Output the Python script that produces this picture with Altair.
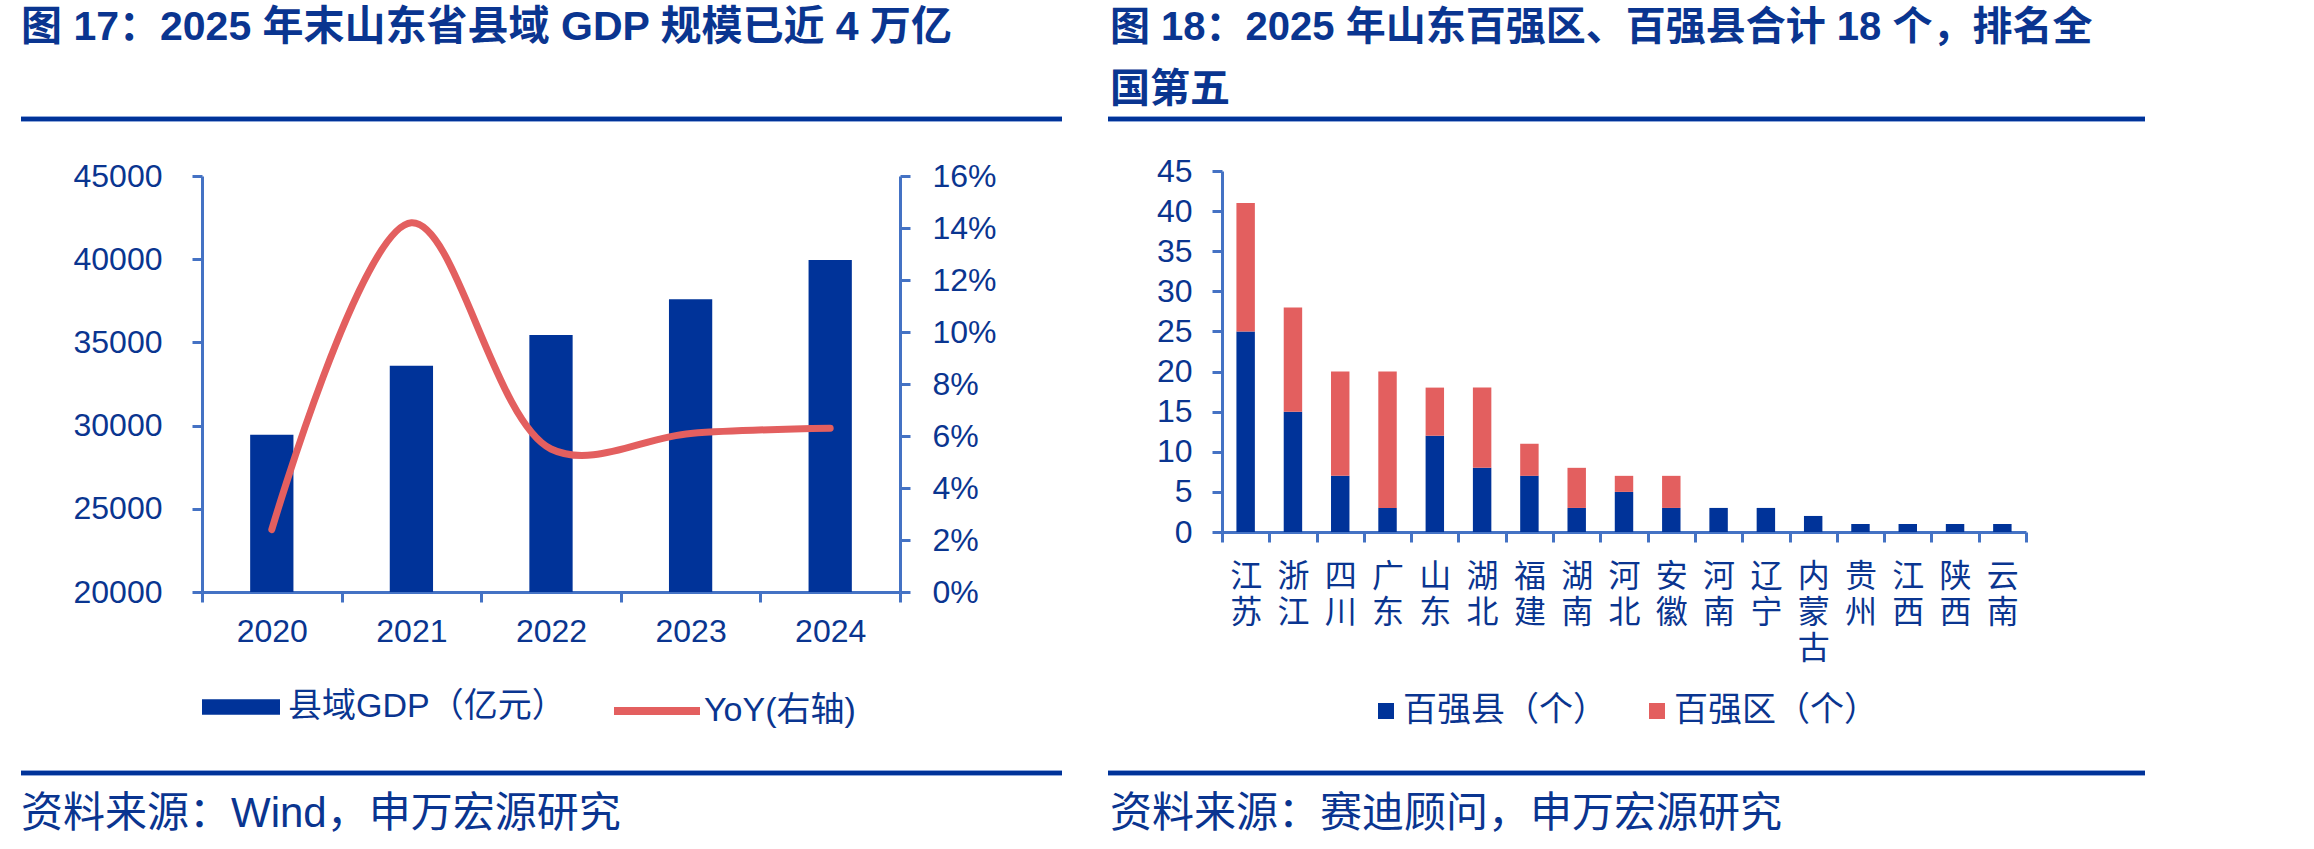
import altair as alt
import pandas as pd

# ---------------- data ----------------
years = ["2020", "2021", "2022", "2023", "2024"]
gdp = [29450, 33600, 35450, 37600, 39950]          # 县域GDP（亿元）
yoy = [0.024, 0.142, 0.055, 0.061, 0.063]          # YoY

provinces = ["江苏", "浙江", "四川", "广东", "山东", "湖北", "福建", "湖南", "河北",
             "安徽", "河南", "辽宁", "内蒙古", "贵州", "江西", "陕西", "云南"]
counties = [25, 15, 7, 3, 12, 8, 7, 3, 5, 3, 3, 3, 2, 1, 1, 1, 1]
districts = [16, 13, 13, 17, 6, 10, 4, 5, 2, 4, 0, 0, 0, 0, 0, 0, 0]

series_gdp = "县域GDP（亿元）"
series_yoy = "YoY(右轴)"
series_county = "百强县（个）"
series_district = "百强区（个）"

gdp_ticks = [20000, 25000, 30000, 35000, 40000, 45000]
yoy_ticks = [0, 0.02, 0.04, 0.06, 0.08, 0.10, 0.12, 0.14, 0.16]
count_ticks = [0, 5, 10, 15, 20, 25, 30, 35, 40, 45]

title_left = "图 17：2025 年末山东省县域 GDP 规模已近 4 万亿"
title_right = ["图 18：2025 年山东百强区、百强县合计 18 个，排名全", "国第五"]
source_left = "资料来源：Wind，申万宏源研究"
source_right = "资料来源：赛迪顾问，申万宏源研究"

# ---------------- style ----------------
W, H = 2314, 849
BLUE = "#003399"
RED = "#E35F5F"
AXIS = "#4472C4"
TXT = "#0A3590"
FONT = "Liberation Sans, Noto Sans CJK SC"

df_left = pd.DataFrame({"year": years, "gdp": gdp, "yoy": yoy,
                        "s1": series_gdp, "s2": series_yoy, "base": gdp_ticks[0]})

rows = []
for p, c, d in zip(provinces, counties, districts):
    rows.append({"province": p, "series": series_county, "count": c, "ord": 0})
    rows.append({"province": p, "series": series_district, "count": d, "ord": 1})
df_right = pd.DataFrame(rows)

axis_common = dict(domainColor=AXIS, domainWidth=3, tickColor=AXIS, tickWidth=3, tickSize=10,
                   labelColor=TXT, labelFontSize=32, labelFont=FONT, grid=False, title=None,
                   labelOverlap=False, labelFlush=False, labelBound=False)

legend_common = dict(orient="none", title=None, direction="horizontal", padding=0,
                     labelFontSize=34, labelColor=TXT, labelFont=FONT, labelLimit=1000)

# left panel geometry
LX0, LX1, LY0, LY1 = 202, 900, 592, 176
# right panel geometry
RX0, RX1, RY0, RY1 = 1222, 2026, 532, 171

left_x_scale = alt.Scale(range=[LX0, LX1], paddingInner=0, paddingOuter=0)

bars_left = alt.Chart(df_left).mark_bar(width=alt.RelativeBandSize(0.31)).encode(
    x=alt.X("year:N", sort=years, scale=left_x_scale,
            axis=alt.Axis(orient="bottom", offset=LY0 - H, tickBand="extent", labelAngle=0,
                          labelPadding=14, **axis_common)),
    y=alt.Y("gdp:Q", scale=alt.Scale(domain=[gdp_ticks[0], gdp_ticks[-1]], range=[LY0, LY1],
                                     nice=False, zero=False),
            axis=alt.Axis(orient="left", offset=-LX0, values=gdp_ticks, format="d",
                          labelPadding=30, **axis_common)),
    y2="base:Q",
    color=alt.Color("s1:N", scale=alt.Scale(range=[BLUE]),
                    legend=alt.Legend(legendX=202, legendY=668,
                                      symbolType="M-1,-0.2H1V0.2H-1Z", symbolSize=6084,
                                      symbolStrokeWidth=0, labelOffset=8, **legend_common)),
)

line_left = alt.Chart(df_left).mark_line(interpolate="catmull-rom", strokeWidth=7,
                                         strokeCap="round").encode(
    x=alt.X("year:N", sort=years, scale=left_x_scale, axis=None),
    y=alt.Y("yoy:Q", scale=alt.Scale(domain=[0, 0.16], range=[LY0, LY1], nice=False),
            axis=alt.Axis(orient="right", offset=LX1 - W, values=yoy_ticks, format=".0%",
                          labelPadding=22, **axis_common)),
    color=alt.Color("s2:N", scale=alt.Scale(range=[RED]),
                    legend=alt.Legend(legendX=610, legendY=664,
                                      symbolType="stroke", symbolSize=7396,
                                      symbolStrokeWidth=8, labelOffset=0, **legend_common)),
)

bars_right = alt.Chart(df_right).mark_bar(width=alt.RelativeBandSize(0.39)).encode(
    x=alt.X("province:N", sort=provinces,
            scale=alt.Scale(range=[RX0, RX1], paddingInner=0, paddingOuter=0),
            axis=alt.Axis(orient="bottom", offset=RY0 - H, tickBand="extent", labelAngle=0,
                          labelPadding=19, labelBaseline="top", labelLineHeight=36,
                          labelExpr="split(datum.label, '')", **axis_common)),
    y=alt.Y("count:Q", stack="zero",
            scale=alt.Scale(domain=[0, 45], range=[RY0, RY1], nice=False),
            axis=alt.Axis(orient="left", offset=-RX0, values=count_ticks,
                          labelPadding=20, **axis_common)),
    color=alt.Color("series:N", sort=[series_county, series_district],
                    scale=alt.Scale(domain=[series_county, series_district], range=[BLUE, RED]),
                    legend=alt.Legend(legendX=1369, legendY=694, symbolType="square",
                                      symbolSize=256, symbolStrokeWidth=0, labelOffset=0,
                                      columnPadding=33, **legend_common)),
    order=alt.Order("ord:Q", sort="ascending"),
)

one = alt.Data(values=[{}])


def text_at(txt, x, y, size, weight="normal", baseline="middle", line_height=None):
    kw = dict(text=txt, align="left", baseline=baseline, fontSize=size, fontWeight=weight,
              font=FONT, color=TXT)
    if line_height is not None:
        kw["lineHeight"] = line_height
    return alt.Chart(one).mark_text(**kw).encode(x=alt.value(x), y=alt.value(y))


def hline(x0, x1, y):
    under = alt.Chart(one).mark_rule(color="#8FA8DA", strokeWidth=6).encode(
        x=alt.value(x0), x2=alt.value(x1), y=alt.value(y))
    over = alt.Chart(one).mark_rule(color=BLUE, strokeWidth=4).encode(
        x=alt.value(x0), x2=alt.value(x1), y=alt.value(y))
    return [under, over]


decor = [
    text_at(title_left, 21, 28, 41, "bold"),
    text_at(title_right, 1110, 8, 40, "bold", baseline="top", line_height=62),
    text_at(source_left, 21, 814, 42),
    text_at(source_right, 1110, 814, 42),
] + hline(21, 1062, 119) + hline(1108, 2145, 119) + hline(21, 1062, 773) + hline(1108, 2145, 773)

chart = alt.layer(bars_left, line_left, bars_right, *decor).resolve_scale(
    x="independent", y="independent", color="independent"
).properties(
    width=W, height=H, padding=0, autosize=alt.AutoSizeParams(type="none"),
    background="white"
).configure_view(stroke=None)

chart.save("out.html", embed_options={"renderer": "svg", "actions": False})
